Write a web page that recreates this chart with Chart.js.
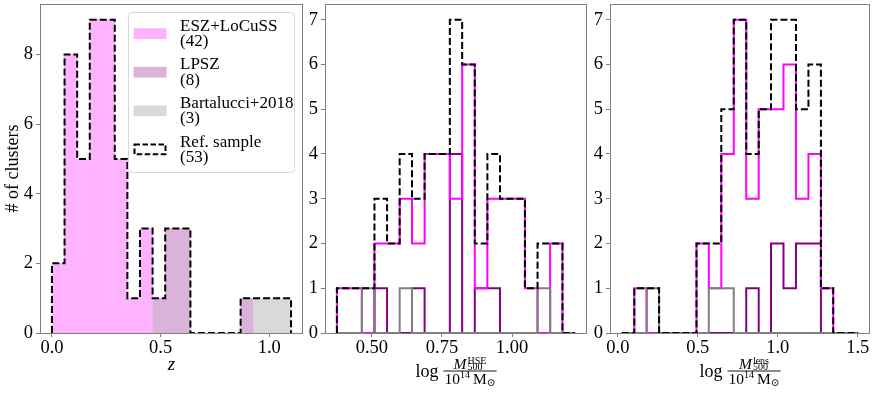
<!DOCTYPE html>
<html>
<head>
<meta charset="utf-8">
<script src="https://cdn.jsdelivr.net/npm/chart.js@4.4.0/dist/chart.umd.min.js"></script>
<style>
  html, body { margin: 0; padding: 0; background: #ffffff; }
  #wrap { position: relative; width: 873px; height: 394px; overflow: hidden; }
  #wrap canvas { position: absolute; left: 0; top: 0; }
</style>
</head>
<body>
<div id="wrap">
  <canvas id="cz" width="873" height="394"></canvas>
  <canvas id="chse" width="873" height="394"></canvas>
  <canvas id="clens" width="873" height="394"></canvas>
</div>
<script>
// ---------------- data ----------------
// Left panel: redshift histogram (stacked, filled) + reference sample outline
const zEdges = [0.000,0.058,0.116,0.174,0.232,0.289,0.347,0.405,0.463,0.521,0.579,0.637,0.695,0.753,0.811,0.868,0.926,0.984,1.042,1.100];
const zESZ   = [2,8,5,9,9,5,1,3,0,0,0,0,0,0,0,0,0,0,0];
const zLPSZ  = [0,0,0,0,0,0,0,0,1,3,3,0,0,0,0,1,0,0,0];
const zBart  = [0,0,0,0,0,0,0,0,0,0,0,0,0,0,0,0,1,1,1];
const zRef   = [2,8,5,9,9,5,1,3,1,3,3,0,0,0,0,1,1,1,1];

// Middle panel: log M500_HSE / 1e14 Msun
const hseEdges = [0.375,0.420,0.464,0.509,0.554,0.599,0.643,0.688,0.733,0.778,0.822,0.867,0.912,0.957,1.001,1.046,1.091,1.136,1.180,1.225];
const hseESZ   = [1,1,0,2,2,3,2,4,4,3,6,1,3,3,3,1,0,2,0];
const hseLPSZ  = [0,0,0,1,0,0,1,0,0,4,0,1,1,0,0,0,0,0,0];
const hseBart  = [0,0,1,0,0,1,0,0,0,0,0,0,0,0,0,0,1,0,0];
const hseRef   = [1,1,1,3,2,4,3,4,4,7,6,2,4,3,3,1,2,2,0];

// Right panel: log M500_lens / 1e14 Msun
const lensEdges = [0.025,0.103,0.180,0.258,0.336,0.414,0.492,0.569,0.647,0.725,0.803,0.881,0.958,1.036,1.114,1.192,1.270,1.347,1.425,1.503];
const lensESZ   = [0,1,0,0,0,0,2,1,4,7,3,5,5,6,3,4,1,0,0];
const lensLPSZ  = [0,0,0,0,0,0,0,0,0,0,1,0,2,1,2,2,0,0,0];
const lensBart  = [0,0,1,0,0,0,0,1,1,0,0,0,0,0,0,0,0,0,0];
const lensRef   = [0,1,1,0,0,0,2,2,5,7,4,5,7,7,5,6,1,0,0];

// Ticks and labels
const zTicks = [0, 0.5, 1.0];
const zTickLabels = ['0.0', '0.5', '1.0'];
const zCountTicks = [0, 2, 4, 6, 8];
const hseTicks = [0.5, 0.75, 1.0];
const hseTickLabels = ['0.50', '0.75', '1.00'];
const lensTicks = [0, 0.5, 1.0, 1.5];
const lensTickLabels = ['0.0', '0.5', '1.0', '1.5'];
const massCountTicks = [0, 1, 2, 3, 4, 5, 6, 7];

const legendNames  = ['ESZ+LoCuSS', 'LPSZ', 'Bartalucci+2018', 'Ref. sample'];
const legendCounts = ['(42)', '(8)', '(3)', '(53)'];
const yTitle = '# of clusters';
const zTitle = 'z';

// ---------------- styling ----------------
const W = 873, H = 394;
const SERIF = '"Liberation Serif", "Times New Roman", Times, serif';
const COL = {
  eszFill: '#ffb3ff', lpszFill: '#d9b3d9', bartFill: '#d9d9d9',
  esz: '#ff00ff', lpsz: '#800080', bart: '#808080', ref: '#000000',
  spine: '#808080'
};
const TICK_FONT = { family: SERIF, size: 18.5 };

// ---------------- helpers ----------------
function stepPoints(edges, counts) {
  const pts = [{ x: edges[0], y: 0 }];
  counts.forEach((c, i) => {
    pts.push({ x: edges[i], y: c });
    pts.push({ x: edges[i + 1], y: c });
  });
  pts.push({ x: edges[edges.length - 1], y: 0 });
  return pts;
}
function cumulate(...arrs) {
  return arrs[0].map((_, i) => arrs.reduce((s, a) => s + a[i], 0));
}
function stepLine(edges, counts, color, order, dash) {
  return {
    data: stepPoints(edges, counts),
    borderColor: color, borderWidth: 2, borderDash: dash || [],
    pointRadius: 0, fill: false, tension: 0, order: order, clip: 0,
    borderJoinStyle: 'miter', borderCapStyle: 'butt'
  };
}
function stepFill(edges, counts, color, order) {
  return {
    data: stepPoints(edges, counts),
    borderColor: 'rgba(0,0,0,0)', borderWidth: 0, backgroundColor: color,
    pointRadius: 0, fill: 'origin', tension: 0, order: order, clip: 0
  };
}

const framePlugin = {
  id: 'frame',
  afterDatasetsDraw(chart) {
    const { ctx, chartArea: a } = chart;
    ctx.save();
    ctx.strokeStyle = COL.spine;
    ctx.lineWidth = 1;
    ctx.strokeRect(Math.round(a.left) + 0.5, Math.round(a.top) + 0.5,
                   Math.round(a.right - a.left) - 1, Math.round(a.bottom - a.top));
    ctx.restore();
  }
};

const legendPlugin = {
  id: 'legendBox',
  afterDraw(chart) {
    const ctx = chart.ctx;
    const bx = 128.5, by = 12.5, bw = 166, bh = 160, r = 4;
    ctx.save();
    ctx.beginPath();
    ctx.moveTo(bx + r, by);
    ctx.arcTo(bx + bw, by, bx + bw, by + bh, r);
    ctx.arcTo(bx + bw, by + bh, bx, by + bh, r);
    ctx.arcTo(bx, by + bh, bx, by, r);
    ctx.arcTo(bx, by, bx + bw, by, r);
    ctx.closePath();
    ctx.fillStyle = 'rgba(255,255,255,0.8)';
    ctx.fill();
    ctx.strokeStyle = '#d6d6d6';
    ctx.lineWidth = 1;
    ctx.stroke();
    const fills = [COL.eszFill, COL.lpszFill, COL.bartFill, null];
    const step = 38.6;
    ctx.font = '17px ' + SERIF;
    ctx.fillStyle = '#000';
    ctx.textAlign = 'left';
    ctx.textBaseline = 'alphabetic';
    for (let i = 0; i < legendNames.length; i++) {
      const hy = 28.3 + i * step;
      if (fills[i]) {
        ctx.fillStyle = fills[i];
        ctx.fillRect(133.5, hy, 33, 10.7);
      } else {
        ctx.strokeStyle = COL.ref;
        ctx.lineWidth = 2;
        ctx.setLineDash([5.5, 2.5]);
        ctx.strokeRect(134.5, hy + 0.5, 31, 9.7);
        ctx.setLineDash([]);
      }
      ctx.fillStyle = '#000';
      ctx.fillText(legendNames[i], 180, 30.7 + i * step);
      ctx.fillText(legendCounts[i], 180, 46 + i * step);
    }
    ctx.restore();
  }
};

function massLabelPlugin(sup) {
  return {
    id: 'massLabel',
    afterDraw(chart) {
      const ctx = chart.ctx;
      const a = chart.chartArea;
      const cx = (a.left + a.right) / 2;
      const baseY = 376.7;
      const big = '18px ' + SERIF, mid = 'italic 15.5px ' + SERIF, midR = '15.5px ' + SERIF, small = '10px ' + SERIF;
      const sunFont = '10.5px "DejaVu Serif", "DejaVu Sans", serif';
      ctx.save();
      ctx.fillStyle = '#000';
      ctx.textAlign = 'left';
      ctx.textBaseline = 'alphabetic';
      ctx.font = big; const wLog = ctx.measureText('log').width;
      ctx.font = mid; const wM = ctx.measureText('M').width;
      ctx.font = small; const wSup = ctx.measureText(sup).width; const wSub = ctx.measureText('500').width;
      const wNum = wM + 1 + Math.max(wSup, wSub);
      ctx.font = midR; const w10 = ctx.measureText('10').width; const wMs = ctx.measureText('M').width;
      ctx.font = small; const w14 = ctx.measureText('14').width;
      ctx.font = sunFont; const wSun = ctx.measureText('\u2299').width;
      const wDen = w10 + w14 + 3 + wMs + wSun;
      const wFrac = Math.max(wNum, wDen) + 2;
      const gap = 5;
      const total = wLog + gap + wFrac;
      const x0 = cx - total / 2;
      ctx.font = big; ctx.fillText('log', x0, baseY);
      const fx = x0 + wLog + gap;
      const barY = baseY - 5.7;
      ctx.fillRect(fx, barY - 0.45, wFrac, 0.9);
      // numerator
      let nx = fx + (wFrac - wNum) / 2;
      ctx.font = mid; ctx.fillText('M', nx, baseY - 7.4);
      ctx.font = small;
      ctx.fillText(sup, nx + wM + 1, baseY - 13.2);
      ctx.fillText('500', nx + wM + 1, baseY - 6.9);
      // denominator
      let dx = fx + (wFrac - wDen) / 2;
      ctx.font = midR; ctx.fillText('10', dx, baseY + 7); dx += w10;
      ctx.font = small; ctx.fillText('14', dx, baseY + 1); dx += w14 + 3;
      ctx.font = midR; ctx.fillText('M', dx, baseY + 7); dx += wMs;
      ctx.font = sunFont; ctx.fillText('\u2299', dx, baseY + 9);
      ctx.restore();
    }
  };
}

function buildOptions(p) {
  return {
    responsive: false,
    animation: false,
    devicePixelRatio: 1,
    events: [],
    layout: { padding: { left: p.area.left - p.yW, right: W - p.area.right, top: p.area.top, bottom: 0 } },
    plugins: { legend: { display: false }, tooltip: { enabled: false } },
    scales: {
      x: {
        type: 'linear', position: 'bottom', min: p.xMin, max: p.xMax,
        afterBuildTicks: s => { s.ticks = p.xTicks.map(v => ({ value: v })); },
        afterFit: s => { s.height = H - p.area.bottom; s.paddingLeft = 0; s.paddingRight = 0; },
        ticks: {
          callback: (v, i) => p.xTickLabels[i],
          font: TICK_FONT, color: '#000', padding: 0, maxRotation: 0, minRotation: 0, autoSkip: false
        },
        grid: { drawOnChartArea: false, drawTicks: true, tickLength: 4, color: COL.spine, lineWidth: 1 },
        border: { display: false },
        title: p.xTitle ? {
          display: true, text: p.xTitle, color: '#000',
          font: { family: SERIF, size: 19, style: 'italic' },
          padding: { top: 0, bottom: 18 }
        } : { display: false }
      },
      y: {
        type: 'linear', position: 'left', min: 0, max: p.yMax,
        afterBuildTicks: s => { s.ticks = p.yTicks.map(v => ({ value: v })); },
        afterFit: s => { s.width = p.yW; s.paddingTop = 0; s.paddingBottom = 0; },
        ticks: { font: TICK_FONT, color: '#000', padding: 3, autoSkip: false, callback: v => String(v) },
        grid: { drawOnChartArea: false, drawTicks: true, tickLength: 4, color: COL.spine, lineWidth: 1 },
        border: { display: false },
        title: p.yTitle ? {
          display: true, text: p.yTitle, color: '#000',
          font: { family: SERIF, size: 18 },
          padding: { top: 2, bottom: 0 }
        } : { display: false }
      }
    }
  };
}

// ---------------- left panel ----------------
new Chart(document.getElementById('cz'), {
  type: 'line',
  data: {
    datasets: [
      stepLine(zEdges, zRef, COL.ref, 0, [7, 3]),
      stepFill(zEdges, zESZ, COL.eszFill, 1),
      stepFill(zEdges, cumulate(zESZ, zLPSZ), COL.lpszFill, 2),
      stepFill(zEdges, cumulate(zESZ, zLPSZ, zBart), COL.bartFill, 3)
    ]
  },
  options: buildOptions({
    area: { left: 40, right: 303, top: 4, bottom: 333 }, yW: 40,
    xMin: -0.055, xMax: 1.155, yMax: 9.45,
    xTicks: zTicks, xTickLabels: zTickLabels, yTicks: zCountTicks,
    xTitle: zTitle, yTitle: yTitle
  }),
  plugins: [framePlugin, legendPlugin]
});

// ---------------- middle panel ----------------
new Chart(document.getElementById('chse'), {
  type: 'line',
  data: {
    datasets: [
      stepLine(hseEdges, hseRef, COL.ref, 0, [7, 3]),
      stepLine(hseEdges, hseBart, COL.bart, 1),
      stepLine(hseEdges, hseESZ, COL.esz, 2),
      stepLine(hseEdges, hseLPSZ, COL.lpsz, 3)
    ]
  },
  options: buildOptions({
    area: { left: 325, right: 587, top: 4, bottom: 333 }, yW: 22,
    xMin: 0.3325, xMax: 1.2675, yMax: 7.35,
    xTicks: hseTicks, xTickLabels: hseTickLabels, yTicks: massCountTicks
  }),
  plugins: [framePlugin, massLabelPlugin('HSE')]
});

// ---------------- right panel ----------------
new Chart(document.getElementById('clens'), {
  type: 'line',
  data: {
    datasets: [
      stepLine(lensEdges, lensRef, COL.ref, 0, [7, 3]),
      stepLine(lensEdges, lensBart, COL.bart, 1),
      stepLine(lensEdges, lensESZ, COL.esz, 2),
      stepLine(lensEdges, lensLPSZ, COL.lpsz, 3)
    ]
  },
  options: buildOptions({
    area: { left: 610, right: 870, top: 4, bottom: 333 }, yW: 22,
    xMin: -0.049, xMax: 1.577, yMax: 7.35,
    xTicks: lensTicks, xTickLabels: lensTickLabels, yTicks: massCountTicks
  }),
  plugins: [framePlugin, massLabelPlugin('lens')]
});
</script>
</body>
</html>
